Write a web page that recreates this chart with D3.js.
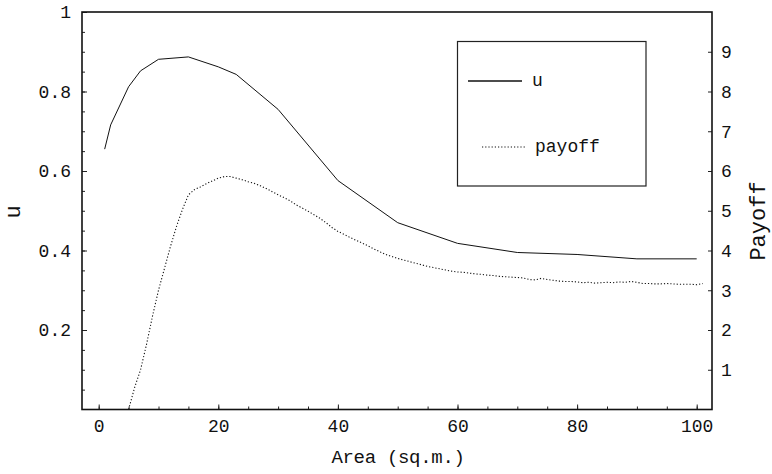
<!DOCTYPE html>
<html>
<head>
<meta charset="utf-8">
<script src="https://cdn.jsdelivr.net/npm/d3@7"></script>
<style>
    body { margin: 0; background: #fff; }
    svg text { font-family: "Liberation Mono", "DejaVu Sans Mono", monospace; fill: #111; }
</style>
</head>
<body>
<svg id="chart" width="772" height="474"></svg>
<script>

// u curve (left axis)
var uArea = [ 1, 2, 5, 7, 10, 15, 20, 23, 30, 40, 50, 60, 70, 80, 90, 100 ];
var uValues = [ 0.655, 0.716, 0.812, 0.852, 0.881, 0.887, 0.862, 0.843, 0.755, 0.576, 0.47, 0.418, 0.395, 0.39, 0.379, 0.379 ];

// payoff curve (right axis)
var payoffArea = d3.range( 5, 102 );
var payoffValues = [
    0.0, 0.55, 1.0, 1.64, 2.35, 3.0, 3.55, 4.1, 4.6, 5.03,
    5.4, 5.53, 5.6, 5.68, 5.75, 5.82, 5.86, 5.86, 5.82, 5.78,
    5.73, 5.69, 5.63, 5.56, 5.48, 5.40, 5.33, 5.25, 5.15, 5.07,
    4.99, 4.90, 4.81, 4.70, 4.58, 4.48, 4.41, 4.33, 4.26, 4.19,
    4.12, 4.04, 3.97, 3.90, 3.85, 3.80, 3.76, 3.72, 3.68, 3.64,
    3.60, 3.57, 3.54, 3.51, 3.48, 3.46, 3.45, 3.43, 3.41, 3.40,
    3.38, 3.37, 3.35, 3.34, 3.33, 3.32, 3.31, 3.27, 3.26, 3.30,
    3.27, 3.25, 3.23, 3.22, 3.22, 3.21, 3.19, 3.20, 3.18, 3.19,
    3.20, 3.19, 3.21, 3.20, 3.22, 3.20, 3.17, 3.17, 3.16, 3.16,
    3.17, 3.16, 3.15, 3.15, 3.15, 3.14, 3.17
];

var xTicks = [ 0, 20, 40, 60, 80, 100 ];
var uTicks = [ 0.2, 0.4, 0.6, 0.8, 1 ];
var payoffTicks = [ 1, 2, 3, 4, 5, 6, 7, 8, 9 ];

var legendLabels = [ 'u', 'payoff' ];

var frame = { left: 82, right: 712, top: 12, bottom: 409.5 };

var svg = d3.select('#chart');

var x = d3.scaleLinear()
    .domain([ 0, 100 ])
    .range([ 98.7, 696.7 ]);

var yU = d3.scaleLinear()
    .domain([ 0, 1 ])
    .range([ frame.bottom, frame.top ]);

var yP = d3.scaleLinear()
    .domain([ 0, 10 ])
    .range([ frame.bottom, frame.top ]);

svg.append('defs').append('clipPath')
    .attr('id', 'plotclip')
    .append('rect')
    .attr('x', frame.left)
    .attr('y', frame.top)
    .attr('width', frame.right - frame.left)
    .attr('height', frame.bottom - frame.top);

// axes, ticks pointing inward

function styleAxis ( g, fontSize ) {

    g.select('.domain').remove();
    g.selectAll('line').attr('stroke', '#222').attr('stroke-width', 1);
    g.selectAll('text').style('font-size', fontSize + 'px').style('font-family', null);

}

// bottom
svg.append('g')
    .attr('transform', 'translate(0,' + frame.bottom + ')')
    .call( d3.axisBottom( x ).tickValues( d3.range( 0, 101, 5 ) ).tickFormat('').tickSize(-3) )
    .call( function ( g ) { styleAxis( g, 18 ); } );

svg.append('g')
    .attr('transform', 'translate(0,' + frame.bottom + ')')
    .call( d3.axisBottom( x ).tickValues( xTicks ).tickFormat( d3.format('d') ).tickSize(-5).tickPadding(10) )
    .call( function ( g ) { styleAxis( g, 18 ); } );

// left
svg.append('g')
    .attr('transform', 'translate(' + frame.left + ',0)')
    .call( d3.axisLeft( yU ).tickValues( d3.range( 0.05, 1, 0.05 ) ).tickFormat('').tickSize(-3) )
    .call( function ( g ) { styleAxis( g, 18 ); } );

svg.append('g')
    .attr('transform', 'translate(' + frame.left + ',0)')
    .call( d3.axisLeft( yU ).tickValues( uTicks ).tickFormat( function ( d ) { return d === 1 ? '1' : d3.format('.1f')( d ); } ).tickSize(-5).tickPadding(11) )
    .call( function ( g ) { styleAxis( g, 18 ); } );

// right
svg.append('g')
    .attr('transform', 'translate(' + frame.right + ',0)')
    .call( d3.axisRight( yP ).tickValues( payoffTicks ).tickFormat( d3.format('d') ).tickSize(-4).tickPadding(9) )
    .call( function ( g ) { styleAxis( g, 18 ); } );

// frame
svg.append('rect')
    .attr('x', frame.left)
    .attr('y', frame.top)
    .attr('width', frame.right - frame.left)
    .attr('height', frame.bottom - frame.top)
    .attr('fill', 'none')
    .attr('stroke', '#111')
    .attr('stroke-width', 1.6);

// curves

var uLine = d3.line()
    .x( function ( d, i ) { return x( uArea[ i ] ); } )
    .y( function ( d ) { return yU( d ); } );

var payoffLine = d3.line()
    .x( function ( d, i ) { return x( payoffArea[ i ] ); } )
    .y( function ( d ) { return yP( d ); } );

var plot = svg.append('g').attr('clip-path', 'url(#plotclip)');

plot.append('path')
    .attr('d', uLine( uValues ))
    .attr('fill', 'none')
    .attr('stroke', '#111')
    .attr('stroke-width', 1);

plot.append('path')
    .attr('d', payoffLine( payoffValues ))
    .attr('fill', 'none')
    .attr('stroke', '#111')
    .attr('stroke-width', 1.1)
    .attr('stroke-dasharray', '1.2,2');

// axis titles

svg.append('text')
    .attr('x', 398)
    .attr('y', 463)
    .attr('text-anchor', 'middle')
    .style('font-size', '19px')
    .style('letter-spacing', '-0.3px')
    .text('Area (sq.m.)');

svg.append('text')
    .attr('transform', 'translate(20,212) rotate(-90)')
    .attr('text-anchor', 'middle')
    .style('font-size', '22px')
    .text('u');

svg.append('text')
    .attr('transform', 'translate(765,221) rotate(-90)')
    .attr('text-anchor', 'middle')
    .style('font-size', '22px')
    .text('Payoff');

// legend

var legend = svg.append('g');

legend.append('rect')
    .attr('x', 457.5)
    .attr('y', 41.5)
    .attr('width', 188.5)
    .attr('height', 144.5)
    .attr('fill', '#fff')
    .attr('stroke', '#222')
    .attr('stroke-width', 1.2);

legend.append('line')
    .attr('x1', 468).attr('x2', 522)
    .attr('y1', 81).attr('y2', 81)
    .attr('stroke', '#111')
    .attr('stroke-width', 1.3);

legend.append('line')
    .attr('x1', 482).attr('x2', 525)
    .attr('y1', 147).attr('y2', 147)
    .attr('stroke', '#111')
    .attr('stroke-width', 1.1)
    .attr('stroke-dasharray', '1.2,2');

legend.selectAll('.legend-label')
    .data( legendLabels )
    .enter().append('text')
    .attr('class', 'legend-label')
    .attr('x', function ( d, i ) { return i === 0 ? 532 : 535; })
    .attr('y', function ( d, i ) { return i === 0 ? 86 : 152; })
    .style('font-size', '18px')
    .text( function ( d ) { return d; } );

</script>
</body>
</html>
